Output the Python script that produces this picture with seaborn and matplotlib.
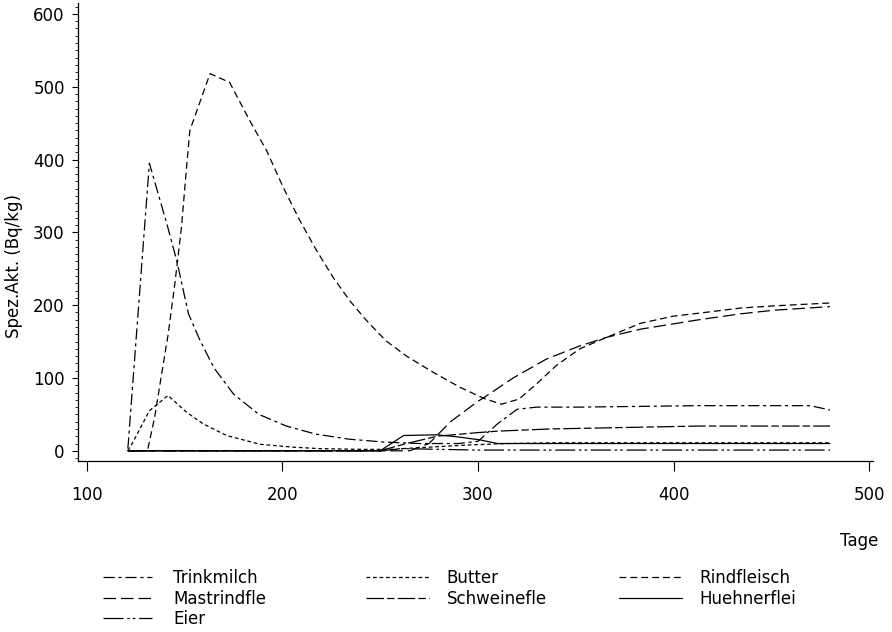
import numpy as np
import pandas as pd
import matplotlib
matplotlib.use("Agg")
import matplotlib.pyplot as plt
from matplotlib.ticker import MultipleLocator
import seaborn as sns

# ---------------- data ----------------
trinkmilch_t = [121, 132, 141, 146, 152, 158, 165, 175, 188, 202, 217, 234, 252, 270, 290, 300, 310, 320, 330, 352, 413, 470, 480]
trinkmilch_v = [3, 395, 311, 261, 188, 151, 114, 78, 50, 34, 23, 16, 12, 10, 10, 13, 37, 57, 60, 60, 62, 62, 56]

butter_t = [121, 124, 132, 141.5, 151, 159.5, 171.5, 188.5, 205.5, 219, 240, 255, 275, 295, 315, 340, 480]
butter_v = [0, 14, 55, 76, 53, 37, 21, 9, 5, 3, 2, 2, 5, 8, 10, 11, 11]

rindfleisch_t = [121, 131, 134.7, 138, 141.6, 145, 148.4, 151, 152.7, 163, 173, 183.4, 192, 200.4, 209, 217.5,
                 226, 234.5, 243, 253, 263.5, 277, 291, 303, 312, 321, 330, 340, 352, 366, 383, 400, 413, 434, 451, 480]
rindfleisch_v = [0, 0, 46, 101, 160, 229, 307, 389, 440, 518, 506, 453, 412, 362, 316, 275,
                 238, 206, 179, 151, 130, 108, 87, 72, 64, 71, 92, 117, 140, 156, 175, 185, 189, 196, 199, 203]

mastrindfle_t = [121, 265, 275, 286, 300, 303, 318, 335, 352, 366, 383, 413, 434, 451, 480]
mastrindfle_v = [0, 0, 10, 40, 68, 73, 100, 126, 144, 156, 167, 180, 188, 193, 198]

schweinefle_t = [121, 250, 262, 279, 300, 310, 337, 413, 480]
schweinefle_v = [0, 0, 9, 20, 25, 27, 30, 34, 34]

huehnerflei_t = [121, 250, 262, 279, 290, 301, 310, 330, 480]
huehnerflei_v = [0, 0, 21, 22, 19, 15, 10, 10, 10]

eier_t = [121, 250, 262, 280, 300, 480]
eier_v = [0, 0, 3, 2, 1, 1]

series_names = ["Trinkmilch", "Butter", "Rindfleisch", "Mastrindfle", "Schweinefle", "Huehnerflei", "Eier"]
series_t = [trinkmilch_t, butter_t, rindfleisch_t, mastrindfle_t, schweinefle_t, huehnerflei_t, eier_t]
series_v = [trinkmilch_v, butter_v, rindfleisch_v, mastrindfle_v, schweinefle_v, huehnerflei_v, eier_v]

x_ticks = [100, 200, 300, 400, 500]
y_ticks = [0, 100, 200, 300, 400, 500, 600]

# ---------------- build long table ----------------
frames = []
for name, t, v in zip(series_names, series_t, series_v):
    frames.append(pd.DataFrame({"Tage": t, "Wert": v, "Serie": name}))
df = pd.concat(frames, ignore_index=True)

dash_styles = {
    "Trinkmilch": (9, 3, 2.5, 3),
    "Butter": (3, 2.2),
    "Rindfleisch": (5.5, 3.2),
    "Mastrindfle": (10, 4),
    "Schweinefle": (14, 2.5, 6, 2.5),
    "Huehnerflei": "",
    "Eier": (16, 3, 2, 2.5, 2, 3),
}

sns.set_style("ticks")
plt.rcParams["font.family"] = ["DejaVu Sans"]
plt.rcParams["text.color"] = "black"
plt.rcParams["axes.labelcolor"] = "black"
plt.rcParams["xtick.color"] = "black"
plt.rcParams["ytick.color"] = "black"

fig = plt.figure(figsize=(8.92, 6.32), dpi=100)
ax = fig.add_axes([78 / 892, 1 - 461 / 632, (873 - 78) / 892, (461 - 3) / 632])

sns.lineplot(data=df, x="Tage", y="Wert", hue="Serie", style="Serie",
             hue_order=series_names, style_order=series_names,
             palette=["black"] * len(series_names), dashes=dash_styles,
             linewidth=0.9, sort=False, estimator=None, legend=False, ax=ax)

ax.set_xlim(95.5, 502)
ax.set_ylim(-14, 615)
ax.set_xticks(x_ticks)
ax.set_yticks(y_ticks)
ax.yaxis.set_minor_locator(MultipleLocator(10))
ax.set_xlabel("")
ax.set_ylabel("")
for s in ["top", "right"]:
    ax.spines[s].set_visible(False)
for s in ["left", "bottom"]:
    ax.spines[s].set_linewidth(0.9)
    ax.spines[s].set_color("black")
ax.tick_params(axis="x", which="major", direction="out", length=7, width=0.8,
               pad=11, labelsize=12, colors="black")
ax.tick_params(axis="y", which="major", direction="out", length=4.5, width=0.8,
               pad=5, labelsize=12, colors="black")
ax.tick_params(axis="y", which="minor", direction="out", length=2, width=0.6)

fig.text(14 / 892, 1 - 266 / 632, "Spez.Akt. (Bq/kg)", rotation=90,
         ha="center", va="center", fontsize=12, color="black")
fig.text(878 / 892, 1 - 541 / 632, "Tage", ha="right", va="center",
         fontsize=12, color="black")

lines = ax.get_lines()
line_by_name = dict(zip(series_names, lines))
cols = [(["Trinkmilch", "Mastrindfle", "Eier"], 103, 2.95, 1.25),
        (["Butter", "Schweinefle"], 366, 3.8, 1.05),
        (["Rindfleisch", "Huehnerflei"], 619, 3.8, 1.05)]
for names, xpix, hl, htp in cols:
    fig.legend([line_by_name[n] for n in names], names,
               loc="upper left", bbox_to_anchor=(xpix / 892, 1 - 569 / 632),
               bbox_transform=fig.transFigure, frameon=False, fontsize=12,
               handlelength=hl, handletextpad=htp, labelspacing=0.15,
               borderpad=0, borderaxespad=0, labelcolor="black")

fig.savefig("out.png", dpi=100, facecolor="white")
